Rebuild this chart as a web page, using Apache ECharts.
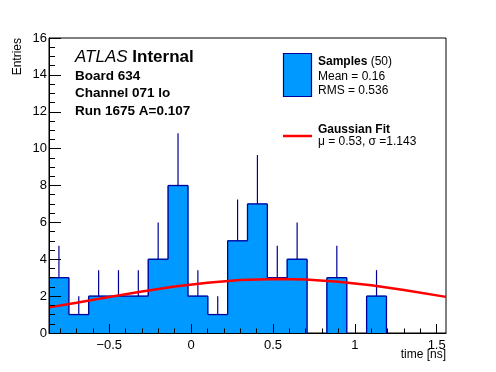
<!DOCTYPE html>
<html>
<head>
<meta charset="utf-8">
<script src="https://cdn.jsdelivr.net/npm/echarts@6/dist/echarts.min.js"></script>
<style>
html,body{margin:0;padding:0;background:#fff;}
#chart{width:496px;height:372px;}
</style>
</head>
<body>
<div id="chart"></div>
<script>
// ---- data ----
const histMin = -0.868;
const histMax = 1.557;
const counts = [3, 1, 2, 2, 2, 4, 8, 2, 1, 5, 7, 3, 4, 0, 3, 0, 2, 0, 0, 0];
const errTops = [4.73, 2, 3.41, 3.41, 3.41, 6, 10.83, 3.41, 2, 7.24, 9.65, 4.73, 6, 0, 4.73, 0, 3.41, 0, 0, 0];
const fitX = [-0.868, -0.7, -0.5, -0.3, -0.1, 0.1, 0.3, 0.53, 0.7, 0.9, 1.1, 1.3, 1.557];
const fitY = [1.39, 1.64, 1.95, 2.25, 2.52, 2.73, 2.87, 2.93, 2.90, 2.78, 2.59, 2.33, 1.96];
const xMajorTicks = [-0.5, 0, 0.5, 1, 1.5];
const xMinorTicks = [-0.8, -0.7, -0.6, -0.4, -0.3, -0.2, -0.1, 0.1, 0.2, 0.3, 0.4, 0.6, 0.7, 0.8, 0.9, 1.1, 1.2, 1.3, 1.4];
const yMax = 16;
const yInterval = 2;

const font = '"Liberation Sans", Arial, Helvetica, sans-serif';
const fillColor = '#0099ff';
const lineColor = '#000099';

const nBins = counts.length;
const binWidth = (histMax - histMin) / nBins;
const histData = counts.map((c, i) => [
  histMin + i * binWidth,
  histMin + (i + 1) * binWidth,
  c,
  i === 0 ? 0 : counts[i - 1],
  errTops[i],
  i === nBins - 1 ? 1 : 0
]);
const fitData = fitX.map((x, i) => [x, fitY[i]]);

const chart = echarts.init(document.getElementById('chart'), null, {renderer: 'canvas'});

function renderFill(params, api) {
  const lo = api.value(0), hi = api.value(1), v = api.value(2);
  if (!(v > 0)) return {type: 'group', children: []};
  const a = api.coord([lo, 0]);
  const b = api.coord([hi, v]);
  return {
    type: 'rect',
    shape: {x: a[0], y: b[1], width: b[0] - a[0], height: a[1] - b[1]},
    style: {fill: fillColor, stroke: fillColor, lineWidth: 1}
  };
}

function renderOutline(params, api) {
  const lo = api.value(0), hi = api.value(1), v = api.value(2);
  const prev = api.value(3), err = api.value(4), last = api.value(5);
  const children = [];
  const st = {stroke: lineColor, lineWidth: 1.3};
  if (v > 0) {
    const a = api.coord([lo, v]);
    const b = api.coord([hi, v]);
    children.push({type: 'line', shape: {x1: a[0], y1: a[1], x2: b[0], y2: b[1]}, style: st});
  }
  if (prev !== v) {
    const a = api.coord([lo, prev]);
    const b = api.coord([lo, v]);
    children.push({type: 'line', shape: {x1: a[0], y1: a[1], x2: b[0], y2: b[1]}, style: st});
  }
  if (last && v > 0) {
    const a = api.coord([hi, v]);
    const b = api.coord([hi, 0]);
    children.push({type: 'line', shape: {x1: a[0], y1: a[1], x2: b[0], y2: b[1]}, style: st});
  }
  if (err > v) {
    const c = (lo + hi) / 2;
    const a = api.coord([c, v]);
    const b = api.coord([c, err]);
    children.push({type: 'line', shape: {x1: a[0], y1: a[1], x2: b[0], y2: b[1]},
                   style: {stroke: lineColor, lineWidth: 1.2}});
  }
  return {type: 'group', children: children};
}

const option = {
  animation: false,
  backgroundColor: '#ffffff',
  grid: {
    left: 49, right: 50, top: 38, bottom: 39,
    show: true, borderColor: '#000', borderWidth: 1, backgroundColor: 'transparent'
  },
  xAxis: [
    {
      type: 'value', min: histMin, max: histMax, position: 'bottom', z: 10,
      axisLine: {show: true, onZero: false, lineStyle: {color: '#000', width: 1}},
      axisTick: {show: true, inside: true, length: 9, lineStyle: {color: '#000'}, customValues: xMajorTicks},
      axisLabel: {
        show: true, color: '#000', fontFamily: font, fontSize: 13, margin: 6,
        customValues: xMajorTicks,
        formatter: v => String(v).replace('-', '\u2212')
      },
      splitLine: {show: false}
    },
    {
      type: 'value', min: histMin, max: histMax, position: 'bottom', offset: 0, z: 10,
      axisLine: {show: true, onZero: false, lineStyle: {color: 'rgba(0,0,0,0)', width: 1}},
      axisTick: {show: true, inside: true, length: 4.5, lineStyle: {color: '#000'}, customValues: xMinorTicks},
      axisLabel: {show: true, color: 'rgba(0,0,0,0)', fontSize: 1, customValues: xMinorTicks},
      splitLine: {show: false}
    }
  ],
  yAxis: {
    type: 'value', min: 0, max: yMax, interval: yInterval, z: 10,
    axisLine: {show: true, onZero: false, lineStyle: {color: '#000', width: 1}},
    axisTick: {show: true, inside: true, length: 12, lineStyle: {color: '#000'}},
    minorTick: {show: true, splitNumber: 4, length: 6, lineStyle: {color: '#000'}},
    axisLabel: {color: '#000', fontFamily: font, fontSize: 13, margin: 2},
    splitLine: {show: false}
  },
  series: [
    {
      type: 'custom', name: 'Samples fill', xAxisIndex: 0,
      renderItem: renderFill, encode: {x: [0, 1], y: 2},
      data: histData, clip: true, z: 1
    },
    {
      type: 'custom', name: 'Samples', xAxisIndex: 0,
      renderItem: renderOutline, encode: {x: [0, 1], y: 2},
      data: histData, clip: true, z: 2
    },
    {
      type: 'line', name: 'Gaussian Fit', xAxisIndex: 0,
      data: fitData, showSymbol: false, symbol: 'none', smooth: false, clip: true,
      lineStyle: {color: '#ff0000', width: 2.5}, z: 3
    }
  ],
  graphic: [
    {type: 'text', x: 18, y: 38, rotation: Math.PI / 2,
     style: {text: 'Entries', font: '12px ' + font, fill: '#000', textAlign: 'right', textVerticalAlign: 'middle'}},
    {type: 'text', x: 446, y: 355,
     style: {text: 'time [ns]', font: '12px ' + font, fill: '#000', textAlign: 'right', textVerticalAlign: 'middle'}},
    {type: 'text', x: 75, y: 57,
     style: {
       text: '{a|ATLAS} {b|Internal}',
       textVerticalAlign: 'middle',
       rich: {
         a: {fontFamily: font, fontSize: 17, fontStyle: 'italic', color: '#000'},
         b: {fontFamily: font, fontSize: 17, fontWeight: 'bold', color: '#000'}
       },
       fontFamily: font, fontSize: 17
     }},
    {type: 'text', x: 75, y: 76,
     style: {text: 'Board 634', font: 'bold 13.5px ' + font, fill: '#000', textVerticalAlign: 'middle'}},
    {type: 'text', x: 75, y: 93.5,
     style: {text: 'Channel 071 lo', font: 'bold 13.5px ' + font, fill: '#000', textVerticalAlign: 'middle'}},
    {type: 'text', x: 75, y: 111,
     style: {text: 'Run 1675 A=0.107', font: 'bold 13.5px ' + font, fill: '#000', textVerticalAlign: 'middle'}},
    {type: 'rect', shape: {x: 283.5, y: 53.5, width: 28, height: 43},
     style: {fill: fillColor, stroke: lineColor, lineWidth: 1.2}},
    {type: 'text', x: 318, y: 62,
     style: {
       text: '{a|Samples}{b| (50)}',
       textVerticalAlign: 'middle',
       rich: {
         a: {fontFamily: font, fontSize: 12, fontWeight: 'bold', color: '#000'},
         b: {fontFamily: font, fontSize: 12, color: '#000'}
       },
       fontFamily: font, fontSize: 12
     }},
    {type: 'text', x: 318, y: 77,
     style: {text: 'Mean = 0.16', font: '12px ' + font, fill: '#000', textVerticalAlign: 'middle'}},
    {type: 'text', x: 318, y: 90.5,
     style: {text: 'RMS = 0.536', font: '12px ' + font, fill: '#000', textVerticalAlign: 'middle'}},
    {type: 'line', shape: {x1: 283, y1: 136, x2: 312, y2: 136},
     style: {stroke: '#ff0000', lineWidth: 2.5}},
    {type: 'text', x: 318, y: 129.5,
     style: {text: 'Gaussian Fit', font: 'bold 12px ' + font, fill: '#000', textVerticalAlign: 'middle'}},
    {type: 'text', x: 318, y: 142,
     style: {text: '\u03bc = 0.53, \u03c3 =1.143', font: '12px ' + font, fill: '#000', textVerticalAlign: 'middle'}}
  ]
};
chart.setOption(option);
</script>
</body>
</html>
